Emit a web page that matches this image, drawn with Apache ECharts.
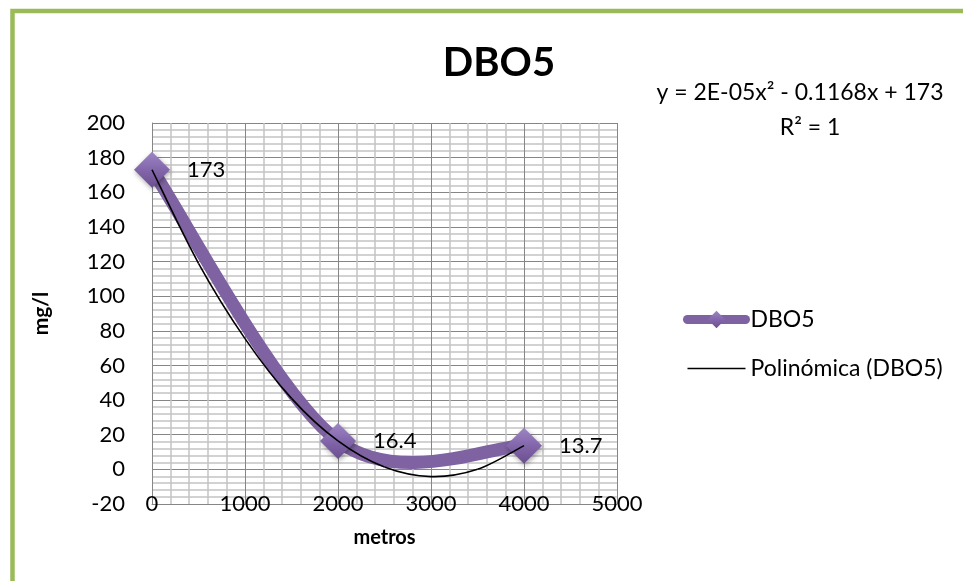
<!DOCTYPE html>
<html>
<head>
<meta charset="utf-8">
<script src="https://cdn.jsdelivr.net/npm/echarts@6/dist/echarts.min.js"></script>
<style>
html,body{margin:0;padding:0;background:#fff;}
#c{width:963px;height:581px;}
</style>
</head>
<body>
<div id="c"></div>
<script>
// Data
const seriesName = 'DBO5';
const trendName = 'Polinómica (DBO5)';
const distances = [0, 2000, 4000];
const dboValues = [173, 16.4, 13.7];
// Trendline points
const trendX = [0, 500, 1000, 1500, 2000, 2500, 3000, 3500, 4000];
const trendY = [173, 119, 75.5, 41, 16.4, 1.3, -4.2, 0, 13.7];
const equationText = 'y = 2E-05x² - 0.1168x + 173';
const r2Text = 'R² = 1';
const yTicks = {min: -20, max: 200, interval: 20};
const xTicks = {min: 0, max: 5000, interval: 1000};

const FONT = 'Lato, "Open Sans", sans-serif';
const PURPLE = '#7E62A1';
const chart = echarts.init(document.getElementById('c'), null, {renderer: 'canvas'});

const mainData = distances.map((d, i) => [d, dboValues[i]]);
const trendData = trendX.map((d, i) => [d, trendY[i]]);

// Spreadsheet-style smoothed curve (Catmull-Rom Bezier) through pixel points from the axes
function smoothCurve(data, style) {
  return function (params, api) {
    if (params.dataIndex !== 0) return null;
    const P = data.map(d => api.coord(d));
    const n = P.length;
    const get = i => P[Math.max(0, Math.min(n - 1, i))];
    const children = [];
    for (let i = 0; i < n - 1; i++) {
      const p0 = get(i - 1), p1 = get(i), p2 = get(i + 1), p3 = get(i + 2);
      children.push({
        type: 'bezierCurve',
        shape: {
          x1: p1[0], y1: p1[1], x2: p2[0], y2: p2[1],
          cpx1: p1[0] + (p2[0] - p0[0]) / 6, cpy1: p1[1] + (p2[1] - p0[1]) / 6,
          cpx2: p2[0] - (p3[0] - p1[0]) / 6, cpy2: p2[1] - (p3[1] - p1[1]) / 6
        },
        style: Object.assign({fill: 'none'}, style)
      });
    }
    return {type: 'group', children: children};
  };
}

chart.setOption({
  animation: false,
  backgroundColor: '#ffffff',
  title: {
    text: 'DBO5',
    left: 494, top: 38, textAlign: 'center',
    textStyle: {fontFamily: FONT, fontSize: 40, fontWeight: 'bold', color: '#000'}
  },
  graphic: [
    {type: 'rect', silent: true, z: 100,
     shape: {x: 12.5, y: 11, width: 2000, height: 2000},
     style: {fill: 'none', stroke: '#9BBB59', lineWidth: 4.5}},
    {type: 'text', x: 800, y: 93, z: 10,
     style: {text: equationText, textAlign: 'center', textVerticalAlign: 'middle',
             font: '23px ' + FONT, fill: '#000'}},
    {type: 'text', x: 810, y: 128, z: 10,
     style: {text: r2Text, textAlign: 'center', textVerticalAlign: 'middle',
             font: '23px ' + FONT, fill: '#000'}}
  ],
  legend: {
    orient: 'vertical',
    left: 678, top: 303,
    itemWidth: 58, itemHeight: 22, itemGap: 26,
    textStyle: {fontFamily: FONT, fontSize: 23, color: '#000'},
    data: [
      {name: seriesName, lineStyle: {opacity: 1, width: 9, color: PURPLE, cap: 'round'}},
      {name: trendName, lineStyle: {opacity: 1, width: 1.6, color: '#000'}, itemStyle: {opacity: 0}}
    ]
  },
  grid: {left: 152, right: 346, top: 123, bottom: 77, containLabel: false},
  xAxis: {
    type: 'value',
    min: xTicks.min, max: xTicks.max, interval: xTicks.interval,
    name: 'metros', nameLocation: 'middle', nameGap: 24,
    nameTextStyle: {fontFamily: FONT, fontSize: 20, fontWeight: 'bold', color: '#000', verticalAlign: 'top'},
    axisLine: {show: true, onZero: false, lineStyle: {color: '#868686', width: 1}},
    axisTick: {show: false},
    axisLabel: {fontFamily: FONT, fontSize: 22, color: '#000', margin: 0, verticalAlign: 'middle',
                formatter: v => String(v)},
    splitLine: {show: true, lineStyle: {color: '#868686', width: 1}},
    minorTick: {show: false, splitNumber: 5},
    minorSplitLine: {show: true, lineStyle: {color: '#c4c4c4', width: 1.5}}
  },
  yAxis: {
    type: 'value',
    min: yTicks.min, max: yTicks.max, interval: yTicks.interval,
    name: 'mg/l', nameLocation: 'middle', nameGap: 100, nameRotate: 90,
    nameTextStyle: {fontFamily: FONT, fontSize: 21, fontWeight: 'bold', color: '#000'},
    axisLine: {show: true, lineStyle: {color: '#868686', width: 1}},
    axisTick: {show: false},
    axisLabel: {fontFamily: FONT, fontSize: 22, color: '#000', margin: 27,
                formatter: v => String(v)},
    splitLine: {show: true, lineStyle: {color: '#868686', width: 1}},
    minorTick: {show: false, splitNumber: 5},
    minorSplitLine: {show: true, lineStyle: {color: '#c4c4c4', width: 1.5}}
  },
  series: [
    {
      name: 'DBO5-curve',
      type: 'custom',
      data: mainData,
      encode: {x: 0, y: 1},
      z: 2,
      silent: true,
      renderItem: smoothCurve(mainData, {stroke: PURPLE, lineWidth: 13, lineCap: 'round'})
    },
    {
      name: seriesName,
      type: 'line',
      data: mainData,
      symbol: 'diamond',
      symbolSize: 36,
      z: 3,
      lineStyle: {color: PURPLE, width: 13, opacity: 0},
      itemStyle: {
        color: new echarts.graphic.LinearGradient(0, 0, 0, 1, [
          {offset: 0, color: '#9d86c4'},
          {offset: 0.5, color: '#8366ab'},
          {offset: 1, color: '#6a4f8f'}
        ]),
        shadowColor: 'rgba(0,0,0,0.35)', shadowBlur: 5, shadowOffsetX: 1, shadowOffsetY: 2
      },
      label: {
        show: true, position: 'right', distance: 17,
        fontFamily: FONT, fontSize: 22, color: '#000',
        formatter: p => String(p.value[1])
      }
    },
    {
      name: 'trend-curve',
      type: 'custom',
      data: trendData,
      encode: {x: 0, y: 1},
      z: 4,
      silent: true,
      renderItem: smoothCurve(trendData, {stroke: '#000', lineWidth: 1.6})
    },
    {
      name: trendName,
      type: 'line',
      data: trendData,
      symbol: 'none',
      z: 1,
      itemStyle: {color: '#000'},
      lineStyle: {color: '#000', width: 1.6, opacity: 0}
    }
  ]
});
</script>
</body>
</html>
